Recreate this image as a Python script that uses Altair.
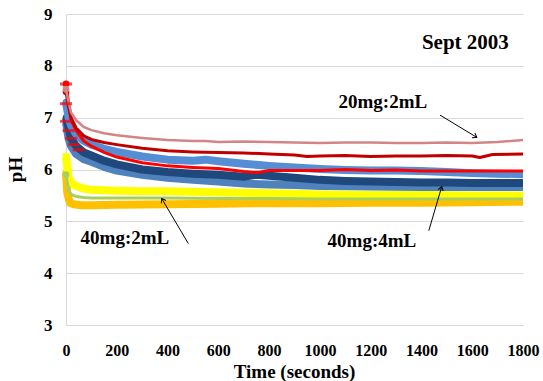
import altair as alt
import pandas as pd

# ---- data ----
pink_t = [0, 10, 20, 40, 70, 100, 150, 200, 300, 400, 500, 550, 600, 700, 800, 900, 1000, 1100, 1200, 1300, 1400, 1500, 1600, 1650, 1700, 1800]
pink_v = [7.55, 7.3, 7.1, 6.95, 6.82, 6.76, 6.7, 6.66, 6.61, 6.57, 6.55, 6.55, 6.53, 6.54, 6.53, 6.52, 6.51, 6.52, 6.52, 6.51, 6.51, 6.52, 6.51, 6.52, 6.53, 6.57]

dred_t = [0, 10, 20, 40, 70, 100, 150, 200, 300, 400, 500, 600, 700, 800, 900, 950, 1000, 1100, 1200, 1300, 1400, 1500, 1600, 1630, 1680, 1800]
dred_v = [7.5, 7.2, 7.0, 6.8, 6.65, 6.58, 6.52, 6.48, 6.41, 6.36, 6.34, 6.33, 6.32, 6.3, 6.28, 6.25, 6.26, 6.27, 6.25, 6.26, 6.26, 6.27, 6.26, 6.23, 6.29, 6.3]

red_t = [0, 10, 20, 40, 70, 100, 150, 200, 300, 400, 500, 600, 700, 750, 800, 900, 1000, 1100, 1200, 1300, 1400, 1500, 1600, 1700, 1800]
red_v = [7.65, 7.3, 6.95, 6.75, 6.55, 6.45, 6.33, 6.24, 6.13, 6.07, 6.04, 6.02, 5.96, 5.94, 5.98, 5.98, 5.98, 6.0, 5.98, 5.99, 5.97, 5.97, 5.97, 5.97, 5.97]

lblue_t = [0, 10, 20, 40, 70, 100, 150, 200, 300, 400, 500, 550, 600, 700, 800, 900, 1000, 1100, 1200, 1300, 1400, 1500, 1600, 1700, 1800]
lblue_v = [7.3, 7.0, 6.85, 6.68, 6.55, 6.48, 6.4, 6.34, 6.25, 6.19, 6.17, 6.19, 6.16, 6.11, 6.07, 6.04, 6.01, 5.99, 5.98, 5.98, 5.97, 5.95, 5.93, 5.92, 5.91]

dblue_t = [0, 10, 20, 40, 70, 100, 150, 200, 300, 400, 500, 600, 700, 750, 800, 900, 1000, 1100, 1200, 1300, 1400, 1500, 1600, 1700, 1800]
dblue_v = [7.0, 6.8, 6.6, 6.45, 6.33, 6.27, 6.17, 6.1, 6.0, 5.95, 5.92, 5.9, 5.86, 5.9, 5.88, 5.84, 5.8, 5.78, 5.77, 5.76, 5.75, 5.75, 5.74, 5.74, 5.74]

mblue_t = [0, 10, 20, 40, 70, 100, 150, 200, 300, 400, 500, 600, 700, 800, 900, 1000, 1200, 1400, 1600, 1800]
mblue_v = [6.9, 6.6, 6.45, 6.3, 6.2, 6.15, 6.05, 5.98, 5.9, 5.84, 5.8, 5.77, 5.73, 5.71, 5.7, 5.68, 5.67, 5.66, 5.66, 5.66]

yel_t = [0, 10, 20, 40, 70, 100, 200, 300, 400, 500, 600, 800, 1000, 1200, 1400, 1600, 1800]
yel_v = [6.25, 5.85, 5.75, 5.68, 5.63, 5.61, 5.59, 5.58, 5.58, 5.57, 5.56, 5.54, 5.52, 5.51, 5.51, 5.5, 5.5]

grn_t = [0, 10, 20, 40, 70, 100, 200, 400, 600, 800, 1000, 1200, 1400, 1600, 1800]
grn_v = [5.9, 5.6, 5.52, 5.48, 5.46, 5.45, 5.45, 5.45, 5.44, 5.44, 5.43, 5.43, 5.43, 5.43, 5.43]

org_t = [0, 5, 15, 30, 60, 100, 200, 400, 600, 800, 1000, 1200, 1400, 1600, 1800]
org_v = [5.93, 5.55, 5.36, 5.33, 5.31, 5.31, 5.32, 5.33, 5.34, 5.35, 5.35, 5.36, 5.36, 5.37, 5.38]

# error-bar caps on the red series near the start
cap_t = [0, 0, 0, 10, 20, 30, 50]
cap_v = [7.65, 7.27, 6.93, 6.75, 6.6, 6.48, 6.38]

x_ticks = [0, 200, 400, 600, 800, 1000, 1200, 1400, 1600, 1800]
y_ticks = [3, 4, 5, 6, 7, 8, 9]

notes_text = ["Sept 2003", "20mg:2mL", "40mg:2mL", "40mg:4mL"]
notes_t = [1573, 1248, 232, 1205]
notes_v = [8.45, 7.30, 4.68, 4.62]
notes_size = [21, 19, 19, 19]

arrow_t1 = [1473, 482, 1429]
arrow_v1 = [7.05, 4.57, 4.82]
arrow_t2 = [1618, 377, 1480]
arrow_v2 = [6.62, 5.44, 5.67]
arrow_ang = [31, 239, 286]

FONT = "Liberation Serif"

xs = alt.Scale(domain=[0, 1800], nice=False, zero=False)
ys = alt.Scale(domain=[3, 9], nice=False, zero=False)

xaxis = alt.Axis(
    values=x_ticks, format="d", labelOverlap=False, labelFlush=False,
    grid=False, ticks=False, labelFont=FONT, labelFontSize=16,
    labelFontWeight="bold", labelColor="black", labelPadding=17,
    domainColor="#D9D9D9", title="Time (seconds)", titleFont=FONT,
    titleFontSize=19, titleFontWeight="bold", titleColor="black",
    titleX=228, titleY=46, titleBaseline="middle", titleAlign="center")
yaxis = alt.Axis(
    values=y_ticks, format="d", labelOverlap=False, labelFlush=False,
    grid=True, gridColor="#D9D9D9", ticks=False,
    labelFont=FONT, labelFontSize=17, labelFontWeight="bold", labelColor="black",
    labelPadding=14, domainColor="#D9D9D9", title="pH", titleFont=FONT,
    titleFontSize=19, titleFontWeight="bold", titleColor="black",
    titleX=-51, titleY=155, titleBaseline="middle", titleAlign="center",
    titleAngle=270)


def X(f):
    return alt.X(f, scale=xs, axis=xaxis, title="Time (seconds)")


def Y(f):
    return alt.Y(f, scale=ys, axis=yaxis, title="pH")


series = [
    (mblue_t, mblue_v, "#4F81BD", 8, "circle"),
    (dblue_t, dblue_v, "#1F497D", 8, "circle"),
    (lblue_t, lblue_v, "#558ED5", 8, "circle"),
    (org_t, org_v, "#FFC000", 8, "square"),
    (yel_t, yel_v, "#FFFF00", 8, "square"),
    (grn_t, grn_v, "#A9CF5A", 3, "circle"),
    (red_t, red_v, "#FF0000", 3, "circle"),
    (dred_t, dred_v, "#C00000", 3, "circle"),
    (pink_t, pink_v, "#D38585", 2.5, "circle"),
]

layers = []
for t, v, col, w, shp in series:
    df = pd.DataFrame({"t": t, "ph": v})
    layers.append(alt.Chart(df).mark_line(color=col, strokeWidth=w, strokeJoin="round").encode(
        x=X("t:Q"), y=Y("ph:Q")))
    layers.append(alt.Chart(df.iloc[:1]).mark_point(color=col, filled=True, shape=shp, size=45, opacity=1).encode(
        x=X("t:Q"), y=Y("ph:Q")))

caps = pd.DataFrame({"t": cap_t, "ph": cap_v})
layers.append(alt.Chart(caps).mark_tick(color="#FF0000", orient="horizontal", size=12, thickness=3).encode(
    x=X("t:Q"), y=Y("ph:Q")))

arrows = pd.DataFrame({"t": arrow_t1, "ph": arrow_v1, "t2": arrow_t2, "v2": arrow_v2, "a": arrow_ang})
layers.append(alt.Chart(arrows).mark_rule(color="black", strokeWidth=1).encode(
    x=X("t:Q"), y=Y("ph:Q"), x2="t2:Q", y2="v2:Q"))
heads = pd.DataFrame({"t": arrow_t2, "ph": arrow_v2, "a": arrow_ang})
layers.append(alt.Chart(heads).mark_point(shape="M-1,-0.7L0,0L-1,0.7", filled=False, color="black",
                                          strokeWidth=1, size=60, opacity=1).encode(
    x=X("t:Q"), y=Y("ph:Q"), angle=alt.Angle("a:Q", scale=None)))

notes = pd.DataFrame({"txt": notes_text, "t": notes_t, "ph": notes_v, "s": notes_size})
layers.append(alt.Chart(notes).mark_text(font=FONT, fontWeight="bold", color="black",
                                         align="center", baseline="middle").encode(
    x=X("t:Q"), y=Y("ph:Q"), text="txt:N", size=alt.Size("s:Q", scale=None)))

chart = alt.layer(*layers).properties(
    width=457, height=311, autosize="none",
    padding={"left": 66, "top": 14, "right": 20, "bottom": 56},
    background="white",
).configure_view(stroke=None)

chart.save("out.html", embed_options={"renderer": "svg", "actions": False})
